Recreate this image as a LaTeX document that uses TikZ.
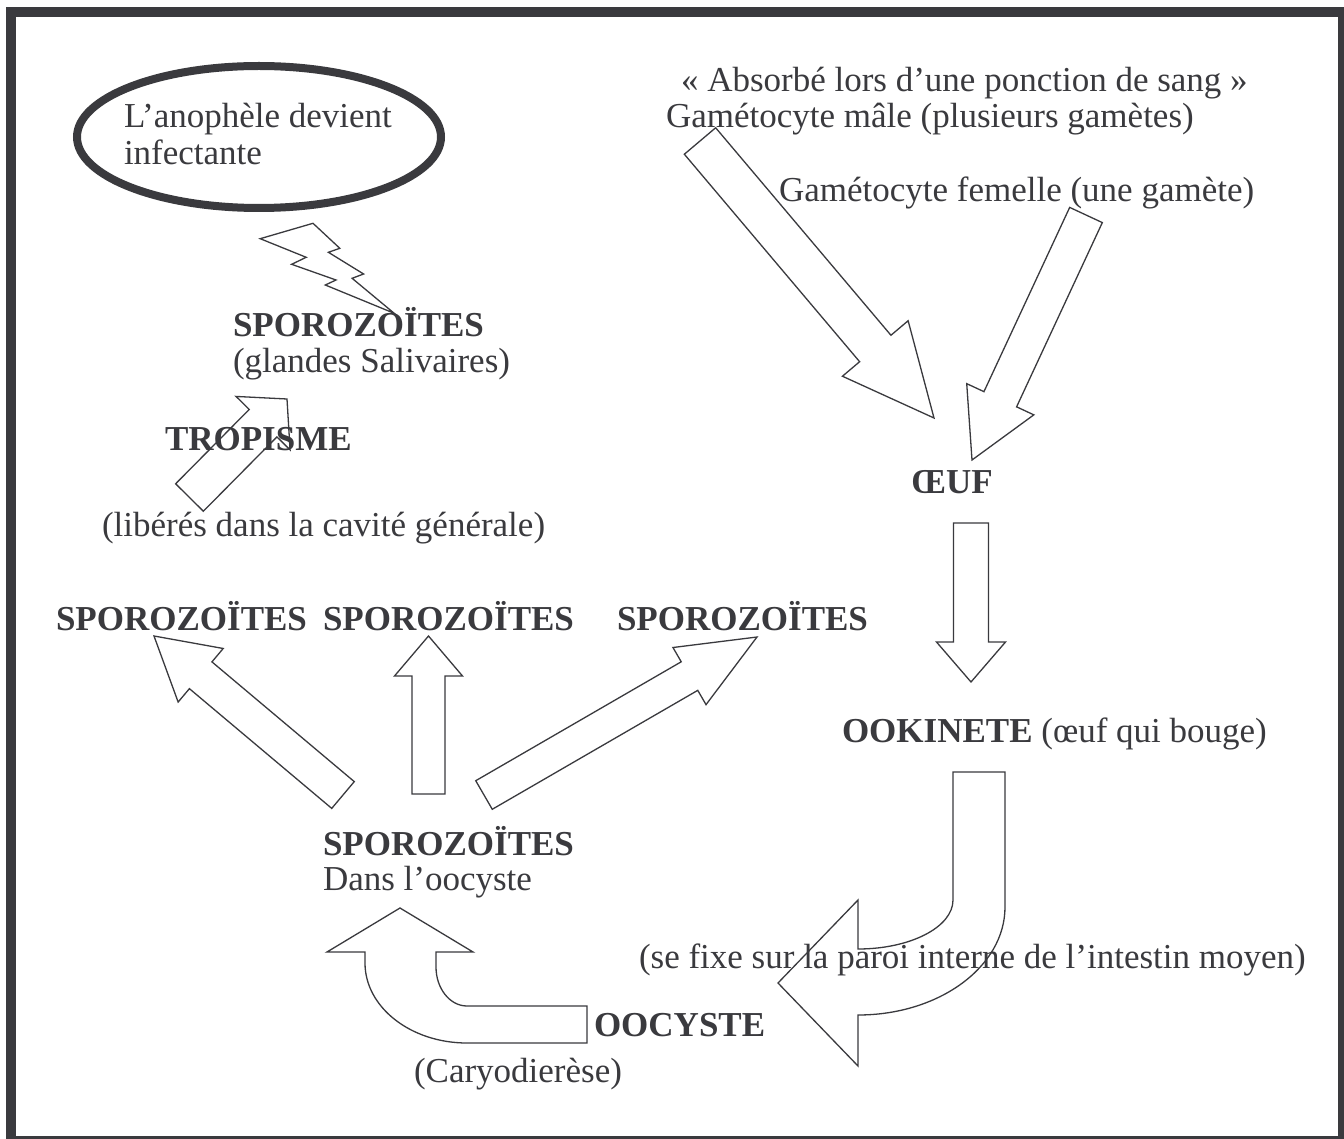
\documentclass[tikz,border=0pt]{standalone}
\usepackage{fontspec}
\setmainfont{Liberation Serif}
\usetikzlibrary{calc,shapes.geometric}
\definecolor{ink}{HTML}{3A3A3E}
\tikzset{
  txt/.style={anchor=base west, inner sep=0pt, outer sep=0pt, text=ink, font=\fontsize{35}{42}\selectfont},
  barrow/.style={draw=ink, line width=1.3pt, line join=miter},
  frame/.style={draw=ink, line width=10pt},
  bubble/.style={draw=ink, line width=8pt, ellipse, inner sep=0pt, minimum width=364pt, minimum height=142pt}
}
% tail, tip, shaft half width, head half width, head length
\newcommand\blockarrow[5]{%
  \coordinate (hb) at ($(#2)!#5pt!(#1)$);
  \draw[barrow] ($(#1)!#3pt!90:(#2)$) -- ($(hb)!#3pt!90:(#2)$) -- ($(hb)!#4pt!90:(#2)$)
    -- (#2) -- ($(hb)!#4pt!-90:(#2)$) -- ($(hb)!#3pt!-90:(#2)$) -- ($(#1)!#3pt!-90:(#2)$) -- cycle;
}
\begin{document}
\begin{tikzpicture}[x=1pt,y=-1pt]
\useasboundingbox (0,0) rectangle (1344,1139);
\fill[white] (0,0) rectangle (1344,1139);
\draw[frame] (11,12) rectangle (1343,1141);

% ellipse
\node[bubble] (bub) at (259,137) {};

% lightning bolt
\draw[barrow] (260.2,238.7) -- (313,223.3) -- (339.8,248.3) -- (328.4,252.3) -- (363.6,274) -- (352.1,278.3)
  -- (394.2,313.3) -- (325.3,285) -- (336,280) -- (291.6,264.3) -- (306.2,257.3) -- cycle;

% arrow end points
\coordinate (maleT) at (700,141);   \coordinate (maleH) at (934,418);
\coordinate (femT) at (1086,215);   \coordinate (femH) at (972,460);
\coordinate (oeufT) at (971,523);   \coordinate (oeufH) at (971,682);
\coordinate (tropT) at (189.5,497.5); \coordinate (tropH) at (287,399);
\coordinate (s1T) at (343,795);     \coordinate (s1H) at (154,636);
\coordinate (s2T) at (428.5,794);   \coordinate (s2H) at (428.5,636);
\coordinate (s3T) at (484,795);     \coordinate (s3H) at (757,637);

\blockarrow{maleT}{maleH}{20.5}{43}{91}
\blockarrow{femT}{femH}{18}{37}{67}
\blockarrow{oeufT}{oeufH}{17.5}{34.5}{40}
\blockarrow{tropT}{tropH}{19.5}{38}{34}
\blockarrow{s1T}{s1H}{17.5}{35}{61}
\blockarrow{s2T}{s2H}{16.5}{34}{40}
\blockarrow{s3T}{s3H}{16.5}{33}{78}

% bent arrow: ookinete -> oocyste
\draw[barrow] (953,772) -- (1005,772) -- (1005,907)
  .. controls (1005,966.6) and (939.2,1015) .. (858,1015)
  -- (858,1066) -- (778,983) -- (858,900) -- (858,949)
  .. controls (910.5,949) and (953,927) .. (953,900) -- cycle;

% bent arrow: oocyste -> sporozoites
\draw[barrow] (587,1006) -- (467,1006)
  .. controls (449.9,1006) and (436,988.5) .. (436,967)
  -- (436,952) -- (473,952) -- (400,908) -- (327,952) -- (365,952) -- (365,963)
  .. controls (365,1007.2) and (410.7,1043) .. (467,1043)
  -- (587,1043) -- cycle;

% texts
\node[txt] (inf1) at (124,128) {L’anophèle devient};
\node[txt] (inf2) at (124,165) {infectante};
\node[txt] (abs) at (681,92) {« Absorbé lors d’une ponction de sang »};
\node[txt] (male) at (666,128) {Gamétocyte mâle (plusieurs gamètes)};
\node[txt] (fem) at (779,202) {Gamétocyte femelle (une gamète)};
\node[txt] (oeuf) at (911,493) {\textbf{ŒUF}};
\node[txt] (spS) at (233,337) {\textbf{SPOROZOÏTES}};
\node[txt] (gland) at (233,373) {(glandes Salivaires)};
\node[txt] (trop) at (165,450) {\textbf{TROPISME}};
\node[txt] (lib) at (102,536) {(libérés dans la cavité générale)};
\node[txt] (sp1) at (56,630) {\textbf{SPOROZOÏTES}};
\node[txt] (sp2) at (323,630) {\textbf{SPOROZOÏTES}};
\node[txt] (sp3) at (617,630) {\textbf{SPOROZOÏTES}};
\node[txt] (ook) at (842,742) {\textbf{OOKINETE} (œuf qui bouge)};
\node[txt] (spO) at (323,855) {\textbf{SPOROZOÏTES}};
\node[txt] (dans) at (323,890) {Dans l’oocyste};
\node[txt] (fixe) at (639,968) {(se fixe sur la paroi interne de l’intestin moyen)};
\node[txt] (oocy) at (594,1036) {\textbf{OOCYSTE}};
\node[txt] (cary) at (414,1082) {(Caryodierèse)};
\end{tikzpicture}
\end{document}
